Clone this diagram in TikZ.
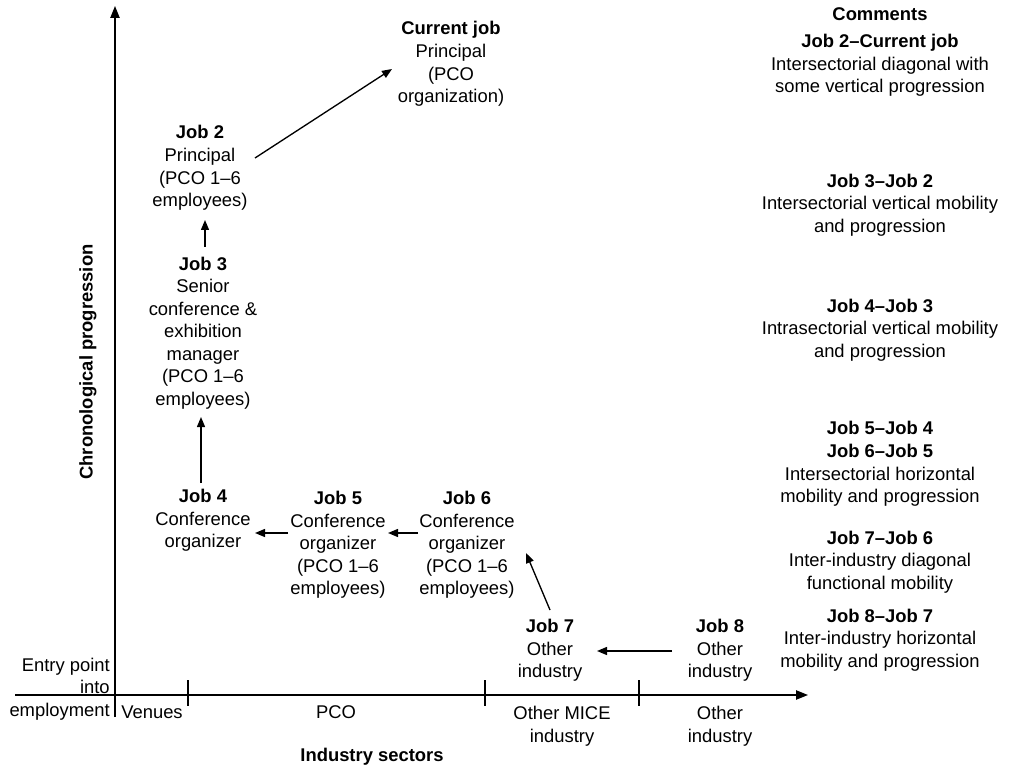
\documentclass[tikz,border=0pt]{standalone}
\usepackage{fontspec}
\setmainfont{Liberation Sans}
\usetikzlibrary{arrows.meta}
\begin{document}
\begin{tikzpicture}[x=0.75pt,y=-0.75pt,
  txt/.style={align=center,inner sep=0pt,font=\fontsize{13.8}{16.9}\selectfont},
  job/.style={txt},
  flow/.style={line width=1pt,-{Triangle[length=7.5pt,width=6pt]}},
  axis/.style={line width=1pt,-{Triangle[length=9pt,width=7pt]}},
  tick/.style={line width=1pt}]
\useasboundingbox (0,0) rectangle (1011,770);

% axes
\coordinate (ybot) at (115,717);
\coordinate (ytop) at (115,6);
\coordinate (xleft) at (15,695);
\coordinate (xright) at (808,695);
\draw[axis] (ybot) -- (ytop);
\draw[axis] (xleft) -- (xright);
\foreach \x/\n in {188/t1,485/t2,639/t3}{
  \coordinate (\n a) at (\x,680);
  \coordinate (\n b) at (\x,706);
  \draw[tick] (\n a) -- (\n b);
}

% axis labels
\node[txt,align=right,anchor=east] (entry) at (110,676) {Entry point\\into};
\node[txt,anchor=east] (empl) at (110,712) {employment};
\node[txt] (venues) at (152,712) {Venues};
\node[txt] (pco) at (336,712) {PCO};
\node[txt] (mice) at (562,726) {Other MICE\\industry};
\node[txt] (oth) at (720,726) {Other\\industry};
\node[txt,font=\fontsize{13.8}{16.9}\selectfont\bfseries] (xlab) at (372,757) {Industry sectors};
\node[txt,font=\fontsize{13.8}{16.9}\selectfont\bfseries,rotate=90] (ylab) at (88,362) {Chronological progression};

% jobs
\node[job] (cur) at (451,64) {\textbf{Current job}\\Principal\\(PCO\\organization)};
\node[job] (j2) at (200,168) {\textbf{Job 2}\\Principal\\(PCO 1–6\\employees)};
\node[job] (j3) at (203,333) {\textbf{Job 3}\\Senior\\conference \&\\exhibition\\manager\\(PCO 1–6\\employees)};
\node[job] (j4) at (203,520.5) {\textbf{Job 4}\\Conference\\organizer};
\node[job] (j5) at (338,545) {\textbf{Job 5}\\Conference\\organizer\\(PCO 1–6\\employees)};
\node[job] (j6) at (467,545) {\textbf{Job 6}\\Conference\\organizer\\(PCO 1–6\\employees)};
\node[job] (j7) at (550,650.5) {\textbf{Job 7}\\Other\\industry};
\node[job] (j8) at (720,650.5) {\textbf{Job 8}\\Other\\industry};

% career moves
\draw[flow] ([shift={(55,-10)}]j2.center) -- ([shift={(-59,5)}]cur.center);
\draw[flow] ([shift={(2,-86)}]j3.center) -- ([shift={(5,52)}]j2.center);
\draw[flow] ([shift={(-2,-37.5)}]j4.center) -- ([shift={(-2,84)}]j3.center);
\draw[flow] ([shift={(-50,-12)}]j5.center) -- ([shift={(52,12.5)}]j4.center);
\draw[flow] ([shift={(-49,-12)}]j6.center) -- ([shift={(50,-12)}]j5.center);
\draw[flow] ([shift={(0,-40.5)}]j7.center) -- ([shift={(59,8)}]j6.center);
\draw[flow] ([shift={(-48,0.5)}]j8.center) -- ([shift={(47,0.5)}]j7.center);

% comments column
\node[txt] (chead) at (880,14) {\textbf{Comments}};
\node[txt] (c1) at (880,65.5) {\textbf{Job 2–Current job}\\Intersectorial diagonal with\\some vertical progression};
\node[txt] (c2) at (880,205) {\textbf{Job 3–Job 2}\\Intersectorial vertical mobility\\and progression};
\node[txt] (c3) at (880,330) {\textbf{Job 4–Job 3}\\Intrasectorial vertical mobility\\and progression};
\node[txt] (c4) at (880,464) {\textbf{Job 5–Job 4}\\\textbf{Job 6–Job 5}\\Intersectorial horizontal\\mobility and progression};
\node[txt] (c5) at (880,562) {\textbf{Job 7–Job 6}\\Inter-industry diagonal\\functional mobility};
\node[txt] (c6) at (880,640) {\textbf{Job 8–Job 7}\\Inter-industry horizontal\\mobility and progression};
\end{tikzpicture}
\end{document}
